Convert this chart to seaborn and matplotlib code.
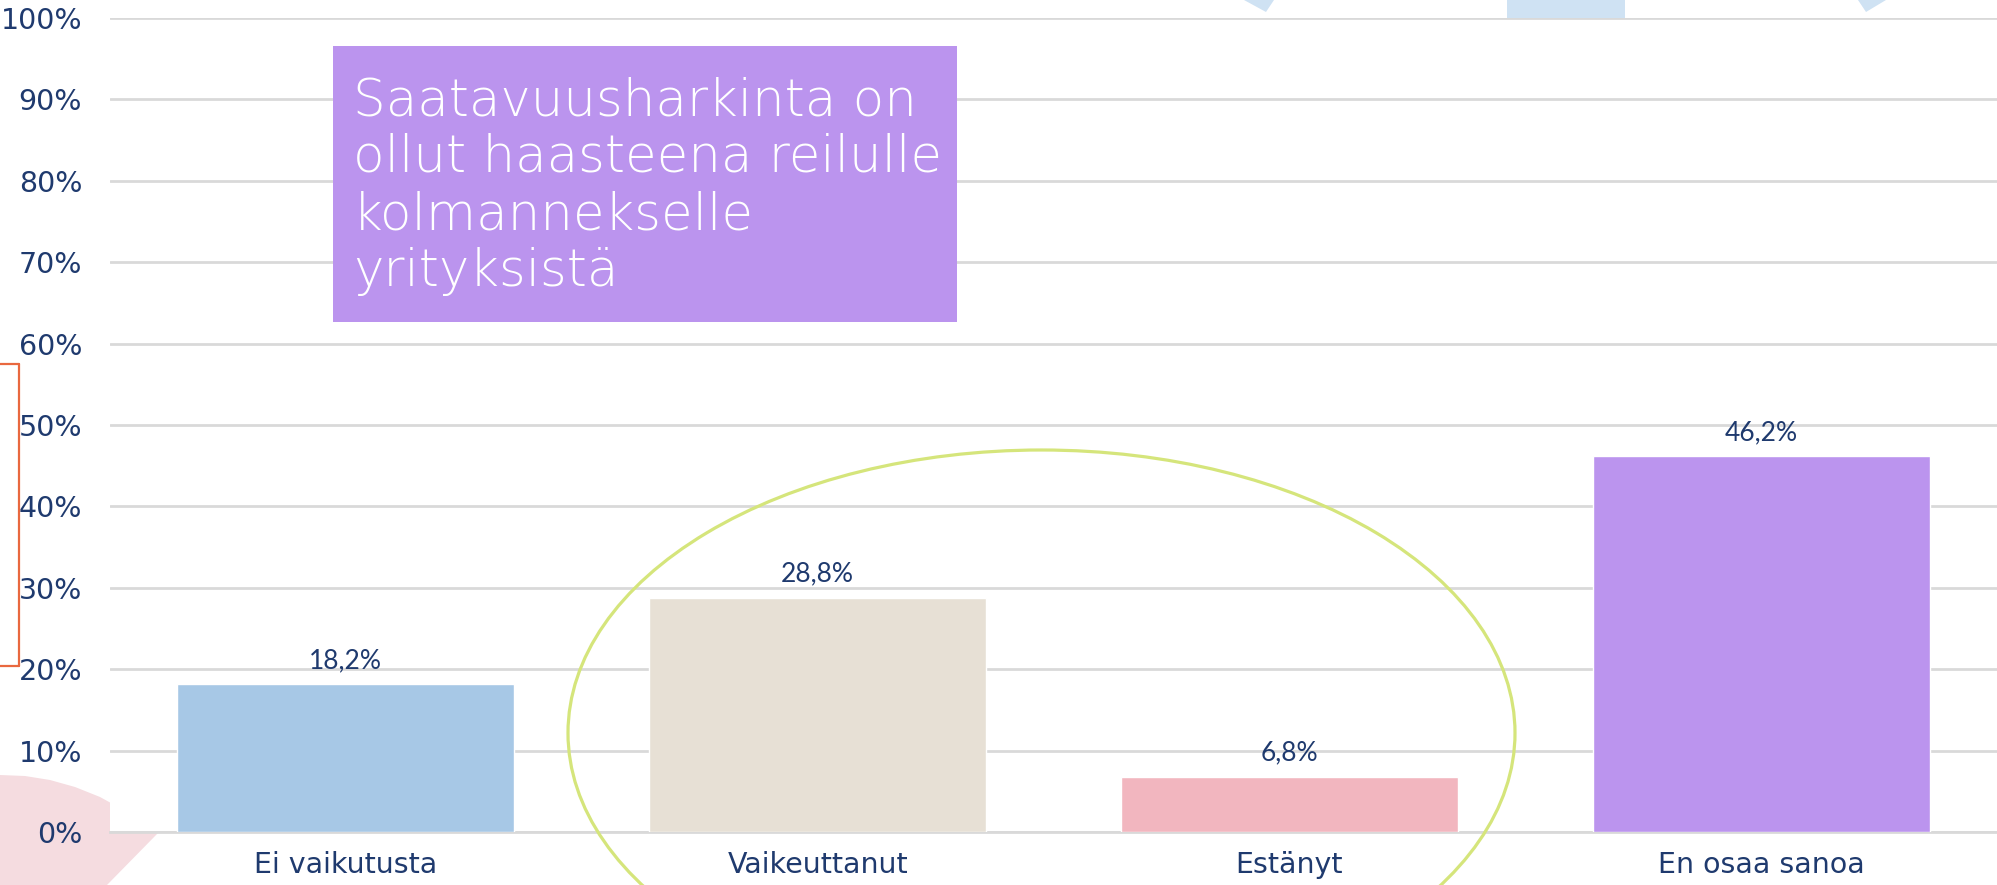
import matplotlib
matplotlib.use("Agg")
import matplotlib.pyplot as plt
import seaborn as sns
import pandas as pd
from matplotlib.patches import Ellipse, Polygon, Rectangle
from matplotlib.lines import Line2D

# ---- data ----
categories = ["Ei vaikutusta", "Vaikeuttanut", "Estänyt", "En osaa sanoa"]
values = [0.182, 0.288, 0.068, 0.462]
value_labels = ["18,2%", "28,8%", "6,8%", "46,2%"]
bar_colors = ["#A7C8E6", "#E7E0D5", "#F2B6BF", "#BB94EE"]
ytick_values = [0.0, 0.1, 0.2, 0.3, 0.4, 0.5, 0.6, 0.7, 0.8, 0.9, 1.0]
ytick_labels = ["0%", "10%", "20%", "30%", "40%", "50%", "60%", "70%", "80%", "90%", "100%"]
callout_lines = ["Saatavuusharkinta on", "ollut haasteena reilulle",
                 "kolmannekselle", "yrityksistä"]

sns.set_theme(style="white")
plt.rcParams["font.family"] = ["DejaVu Sans"]

W, H = 1997, 885
fig = plt.figure(figsize=(W / 100, H / 100), dpi=100)
fig.patch.set_facecolor("white")

def fx(px):
    return px / W

def fy(py):
    return 1 - py / H

navy = "#1F3A6E"

ax = fig.add_axes([fx(110), fy(832), fx(1997 - 110), (832 - 18) / H])
df = pd.DataFrame({"cat": categories, "val": values})
sns.barplot(data=df, x="cat", y="val", hue="cat", palette=bar_colors,
            width=0.714, legend=False, ax=ax, saturation=1, zorder=3)
ax.set_xlim(-0.5, 3.5)
ax.set_ylim(0, 1.0)
ax.set_yticks(ytick_values)
ax.set_yticklabels(ytick_labels)
ax.yaxis.grid(True, color="#D9D9D9", linewidth=2.0, zorder=0)
ax.set_axisbelow(True)
for s in ["top", "right", "left"]:
    ax.spines[s].set_visible(False)
ax.spines["bottom"].set_color("#D9D9D9")
ax.spines["bottom"].set_linewidth(2.0)
ax.tick_params(axis="y", length=0, pad=20, labelsize=20.5, labelcolor=navy)
ax.tick_params(axis="x", length=0, pad=14, labelsize=20.5, labelcolor=navy)
ax.set_xlabel("")
ax.set_ylabel("")

for i, (v, lab) in enumerate(zip(values, value_labels)):
    ax.annotate(lab, xy=(i, v), xytext=(0, 11.5), textcoords="offset points",
                ha="center", va="baseline", fontsize=19, color=navy,
                family=["Lato", "DejaVu Sans"])

# ---- decorations ----
# pink shape bottom-left (behind axes)
pink_pts = [(0, 775), (25, 776), (50, 780), (75, 787), (100, 797), (120, 808),
            (140, 820), (158, 833), (107, 885), (0, 885)]
fig.add_artist(Polygon([(fx(x), fy(y)) for x, y in pink_pts], closed=True,
                       transform=fig.transFigure, facecolor="#F5DCE0",
                       edgecolor="none", zorder=-1))

# light blue shapes at top
blue = "#CFE2F3"
fig.add_artist(Rectangle((fx(1507), fy(18)), fx(1625 - 1507), 18 / H,
                         transform=fig.transFigure, facecolor=blue,
                         edgecolor="none", zorder=-1))
for pts in ([(1244, 0), (1266, 12), (1274, 0)], [(1858, 0), (1866, 12), (1886, 0)]):
    fig.add_artist(Polygon([(fx(x), fy(y)) for x, y in pts], closed=True,
                           transform=fig.transFigure, facecolor=blue,
                           edgecolor="none", zorder=-1))

# orange bracket on left
orange = "#E9683F"
for xs, ys in (([0, 19], [364, 364]), ([19, 19], [364, 666]), ([0, 19], [666, 666])):
    fig.add_artist(Line2D([fx(x) for x in xs], [fy(y) for y in ys],
                          transform=fig.transFigure, color=orange, linewidth=1.6,
                          zorder=5))

# green ellipse outline
fig.add_artist(Ellipse((fx(1041.5), fy(733)), fx(947), 566 / H,
                       transform=fig.transFigure, facecolor="none",
                       edgecolor="#D5E57B", linewidth=2.3, zorder=5))

# purple callout box
fig.add_artist(Rectangle((fx(333), fy(322)), fx(957 - 333), (322 - 46) / H,
                         transform=fig.transFigure, facecolor="#BB94EE",
                         edgecolor="none", zorder=6))
for k, line in enumerate(callout_lines):
    fig.text(fx(353), fy(115 + 57 * k), line, ha="left", va="baseline",
             fontsize=37, color="white", fontweight="light",
             family=["DejaVu Sans"], zorder=7)

fig.savefig("out.png", dpi=100, facecolor="white")
